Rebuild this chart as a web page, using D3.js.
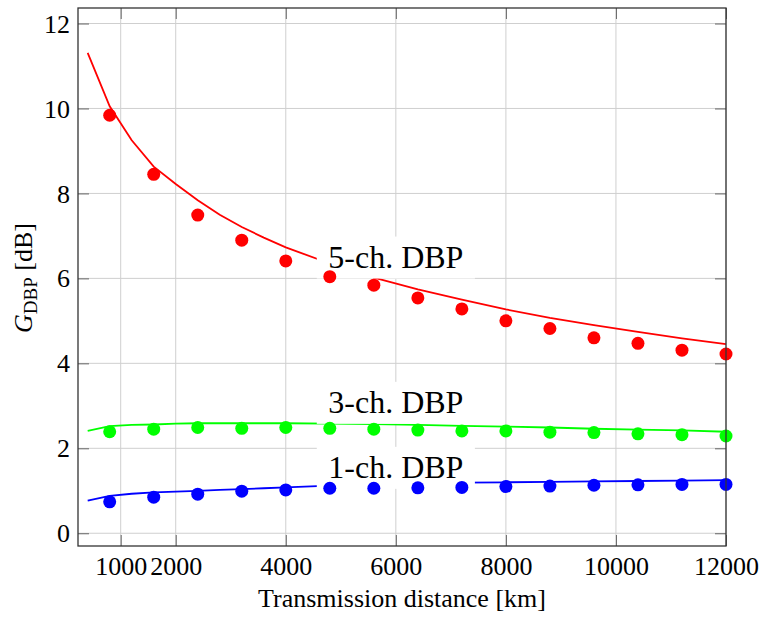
<!DOCTYPE html>
<html>
<head>
<meta charset="utf-8">
<script src="https://cdn.jsdelivr.net/npm/d3@7"></script>
<style>
  html, body { margin: 0; padding: 0; background: #fff; }
  svg { display: block; }
  text { font-family: "Liberation Serif", "Times New Roman", serif; fill: #000; }
</style>
</head>
<body>
<svg id="chart" width="760" height="624"></svg>
<script>
// Simulated distances (km) and DBP gains (dB)
const simDistance = [800, 1600, 2400, 3200, 4000, 4800, 5600, 6400, 7200, 8000, 8800, 9600, 10400, 11200, 12000];
const gain5ch = [9.84, 8.45, 7.49, 6.90, 6.41, 6.04, 5.84, 5.54, 5.28, 5.00, 4.82, 4.60, 4.47, 4.31, 4.22];
const gain3ch = [2.39, 2.45, 2.49, 2.47, 2.49, 2.47, 2.45, 2.43, 2.41, 2.41, 2.38, 2.37, 2.34, 2.32, 2.29];
const gain1ch = [0.74, 0.85, 0.92, 0.99, 1.02, 1.06, 1.06, 1.07, 1.08, 1.10, 1.11, 1.13, 1.14, 1.15, 1.15];

// Analytical curves
const modelDistance = [400, 800, 1200, 1600, 2000, 2400, 2800, 3200, 3600, 4000, 4800, 5600, 6400, 7200, 8000, 8800, 9600, 10400, 11200, 12000];
const model5ch = [11.31, 10.05, 9.25, 8.63, 8.22, 7.84, 7.50, 7.21, 6.96, 6.73, 6.35, 6.02, 5.74, 5.50, 5.27, 5.07, 4.90, 4.74, 4.59, 4.45];
const model3ch = [2.41, 2.52, 2.55, 2.56, 2.58, 2.59, 2.59, 2.59, 2.59, 2.59, 2.58, 2.57, 2.55, 2.53, 2.51, 2.49, 2.46, 2.44, 2.42, 2.39];
const model1ch = [0.77, 0.88, 0.93, 0.96, 0.98, 1.00, 1.02, 1.04, 1.06, 1.08, 1.12, 1.15, 1.17, 1.19, 1.20, 1.21, 1.22, 1.23, 1.24, 1.25];

const xTicks = [1000, 2000, 4000, 6000, 8000, 10000, 12000];
const yTicks = [0, 2, 4, 6, 8, 10, 12];

const seriesNames = ["5-ch. DBP", "3-ch. DBP", "1-ch. DBP"];
const seriesColors = ["#ff0000", "#00ff00", "#0000ff"];
const labelAnchorX = 6000;
const labelAnchorY = [6.49, 3.07, 1.54];

const series = [
  { sim: gain5ch, model: model5ch },
  { sim: gain3ch, model: model3ch },
  { sim: gain1ch, model: model1ch }
];

const serif = "'Liberation Serif', 'Times New Roman', serif";
const plotLeft = 78, plotRight = 726, plotTop = 8, plotBottom = 546;
const svg = d3.select("#chart");

const x = d3.scaleLinear().domain([224, 12000]).range([plotLeft, plotRight]);
const y = d3.scaleLinear().domain([-0.3, 12.365]).range([plotBottom, plotTop]);

// Grid
const grid = svg.append("g");
grid.selectAll("line.gx").data(xTicks).join("line")
  .attr("class", "gx")
  .attr("x1", d => x(d)).attr("x2", d => x(d))
  .attr("y1", plotTop).attr("y2", plotBottom)
  .attr("stroke", "#cfcfcf").attr("stroke-width", 1);
grid.selectAll("line.gy").data(yTicks).join("line")
  .attr("class", "gy")
  .attr("x1", plotLeft).attr("x2", plotRight)
  .attr("y1", d => y(d)).attr("y2", d => y(d))
  .attr("stroke", "#cfcfcf").attr("stroke-width", 1);

// Analytical curves
const line = d3.line().x(d => x(d[0])).y(d => y(d[1]));
series.forEach((s, i) => {
  svg.append("path")
    .datum(modelDistance.map((d, k) => [d, s.model[k]]))
    .attr("d", line)
    .attr("fill", "none")
    .attr("stroke", seriesColors[i])
    .attr("stroke-width", 1.8);
});

// Curve labels on white boxes
const labelG = svg.append("g");
seriesNames.forEach((name, i) => {
  const cx = x(labelAnchorX), cy = y(labelAnchorY[i]);
  const t = labelG.append("text")
    .attr("x", cx).attr("y", cy + 10.5)
    .attr("text-anchor", "middle")
    .style("font-family", serif)
    .style("font-size", "32px")
    .text(name);
  const w = t.node().getComputedTextLength() + 23;
  labelG.insert("rect", "text")
    .attr("x", cx - w / 2).attr("y", cy - 21)
    .attr("width", w).attr("height", 42)
    .attr("fill", "#fff");
});

// Simulation points
series.forEach((s, i) => {
  svg.append("g").selectAll("circle")
    .data(simDistance.map((d, k) => [d, s.sim[k]]))
    .join("circle")
    .attr("cx", d => x(d[0])).attr("cy", d => y(d[1]))
    .attr("r", 6.5)
    .attr("fill", seriesColors[i]);
});

// Axes with inward ticks on all four sides
const tickLen = 11;
const xAxisB = d3.axisBottom(x).tickValues(xTicks).tickSize(-tickLen).tickFormat(d3.format("d"));
const xAxisT = d3.axisTop(x).tickValues(xTicks).tickSize(-tickLen).tickFormat("");
const yAxisL = d3.axisLeft(y).tickValues(yTicks).tickSize(-tickLen).tickFormat(d3.format("d"));
const yAxisR = d3.axisRight(y).tickValues(yTicks).tickSize(-tickLen).tickFormat("");

function styleAxis(g) {
  g.attr("font-family", null).attr("font-size", null);
  g.select(".domain").remove();
  g.selectAll(".tick line").attr("stroke", "#666").attr("stroke-width", 1);
  g.selectAll(".tick text")
    .attr("fill", "#000")
    .style("font-family", serif)
    .style("font-size", "26px");
}
svg.append("g").attr("transform", `translate(0,${plotBottom})`).call(xAxisB).call(styleAxis)
  .selectAll(".tick text").attr("dy", "0").attr("y", 29);
svg.append("g").attr("transform", `translate(0,${plotTop})`).call(xAxisT).call(styleAxis);
svg.append("g").attr("transform", `translate(${plotLeft},0)`).call(yAxisL).call(styleAxis)
  .selectAll(".tick text").attr("x", -8).attr("dy", "0.33em");
svg.append("g").attr("transform", `translate(${plotRight},0)`).call(yAxisR).call(styleAxis);

// Frame
svg.append("rect")
  .attr("x", plotLeft).attr("y", plotTop)
  .attr("width", plotRight - plotLeft).attr("height", plotBottom - plotTop)
  .attr("fill", "none").attr("stroke", "#333").attr("stroke-width", 1.3);

// Axis titles
svg.append("text")
  .attr("x", (plotLeft + plotRight) / 2).attr("y", 607)
  .attr("text-anchor", "middle")
  .style("font-family", serif)
  .style("font-size", "26px")
  .text("Transmission distance [km]");

const yTitle = svg.append("text")
  .attr("transform", `translate(32,278) rotate(-90)`)
  .attr("text-anchor", "middle")
  .style("font-family", serif)
  .style("font-size", "26px");
yTitle.append("tspan").style("font-style", "italic").text("G");
yTitle.append("tspan").style("font-size", "19px").attr("dy", 5).text("DBP");
yTitle.append("tspan").attr("dy", -5).text(" [dB]");
</script>
</body>
</html>
